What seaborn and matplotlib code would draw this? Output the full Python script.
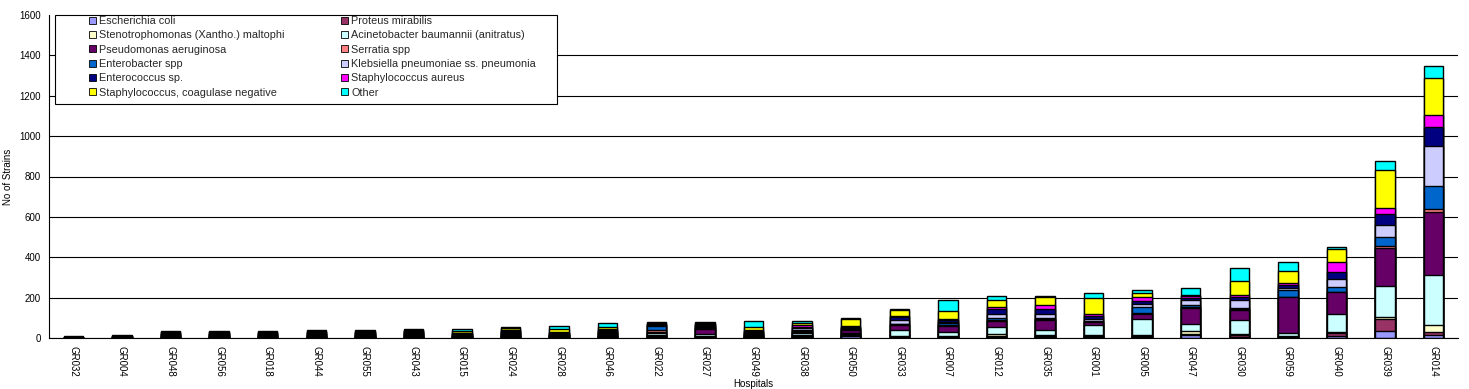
import numpy as np
import pandas as pd
import matplotlib
matplotlib.use("Agg")
import matplotlib.pyplot as plt
from matplotlib.patches import Patch, Rectangle
import seaborn as sns

# hospitals, in the order shown on the x axis
hospitals = ["GR032", "GR004", "GR048", "GR056", "GR018", "GR044", "GR055", "GR043",
             "GR015", "GR024", "GR028", "GR046", "GR022", "GR027", "GR049", "GR038",
             "GR050", "GR033", "GR007", "GR012", "GR035", "GR001", "GR005", "GR047",
             "GR030", "GR059", "GR040", "GR039", "GR014"]

species = ["Escherichia coli", "Proteus mirabilis",
           "Stenotrophomonas (Xantho.) maltophi", "Acinetobacter baumannii (anitratus)",
           "Pseudomonas aeruginosa", "Serratia spp",
           "Enterobacter spp", "Klebsiella pneumoniae ss. pneumonia",
           "Enterococcus sp.", "Staphylococcus aureus",
           "Staphylococcus, coagulase negative", "Other"]

colours = ["#9999FF", "#993366", "#FFFFCC", "#CCFFFF", "#660066", "#FF8080",
           "#0066CC", "#CCCCFF", "#000080", "#FF00FF", "#FFFF00", "#00FFFF"]

# number of strains per hospital
e_coli = [1, 1, 3, 3, 3, 3, 3, 4, 2, 4, 3, 4, 5, 3, 3, 5, 8, 3, 3, 6, 4, 4, 5, 15, 5, 3, 8, 33, 15]
proteus = [0, 1, 2, 2, 2, 3, 3, 3, 2, 4, 3, 4, 5, 3, 3, 5, 5, 3, 2, 6, 4, 4, 5, 3, 8, 3, 17, 63, 16]
steno = [0, 0, 2, 2, 2, 2, 2, 3, 2, 4, 3, 4, 7, 2, 3, 5, 5, 3, 3, 8, 5, 7, 7, 17, 8, 5, 3, 6, 32]
acineto = [1, 1, 3, 3, 3, 4, 4, 5, 3, 5, 3, 5, 6, 10, 5, 8, 6, 31, 22, 33, 27, 47, 75, 33, 70, 15, 92, 156, 251]
pseudo = [1, 2, 4, 4, 4, 4, 4, 6, 3, 5, 3, 5, 8, 28, 5, 8, 16, 24, 28, 30, 48, 16, 25, 79, 50, 176, 106, 188, 311]
serratia = [0, 1, 2, 2, 2, 3, 3, 3, 2, 4, 3, 4, 10, 4, 3, 5, 4, 3, 6, 7, 7, 3, 8, 5, 2, 3, 4, 12, 16]
entero = [1, 1, 3, 3, 3, 3, 3, 4, 3, 4, 3, 4, 17, 4, 3, 6, 4, 4, 8, 8, 6, 4, 30, 11, 4, 31, 24, 44, 114]
klebs = [1, 1, 3, 3, 3, 4, 4, 4, 3, 4, 3, 5, 5, 7, 3, 6, 4, 18, 8, 20, 17, 7, 13, 27, 40, 10, 38, 60, 194]
enteroc = [1, 1, 3, 3, 3, 3, 3, 4, 3, 4, 3, 5, 4, 5, 7, 8, 4, 14, 10, 26, 26, 17, 14, 10, 18, 18, 33, 51, 94]
s_aureus = [1, 1, 3, 3, 3, 3, 3, 3, 2, 4, 3, 5, 4, 4, 4, 6, 4, 8, 6, 10, 20, 12, 23, 8, 6, 6, 50, 33, 63]
scn = [0, 1, 2, 2, 2, 3, 3, 3, 10, 8, 16, 8, 4, 5, 16, 10, 34, 30, 37, 33, 40, 77, 18, 7, 70, 61, 64, 187, 182]
other = [1, 2, 3, 3, 3, 3, 3, 3, 8, 4, 13, 21, 4, 4, 31, 14, 7, 5, 56, 20, 2, 27, 17, 33, 65, 44, 12, 46, 61]

counts = pd.DataFrame(
    dict(zip(species, [e_coli, proteus, steno, acineto, pseudo, serratia,
                       entero, klebs, enteroc, s_aureus, scn, other])),
    index=hospitals)
cum = counts.cumsum(axis=1)

sns.set_theme(style="white")
plt.rcParams["font.family"] = ["Liberation Sans", "DejaVu Sans"]

fig = plt.figure(figsize=(14.69, 3.89), dpi=100)
ax = fig.add_axes([49 / 1469, 51 / 389, 1409 / 1469, 323 / 389])

# stacked bars: draw the cumulative totals from the top layer down
for name, col in reversed(list(zip(species, colours))):
    sns.barplot(x=hospitals, y=cum[name].values, color=col, saturation=1,
                edgecolor="black", linewidth=1.0, width=0.4, errorbar=None, ax=ax)

ax.set_xlim(-0.5, len(hospitals) - 0.5)
ax.set_ylim(0, 1600)
ax.set_yticks(range(0, 1601, 200))
ax.set_axisbelow(True)
ax.yaxis.grid(True, color="black", linewidth=0.8)
ax.get_ygridlines()[-1].set_visible(False)

for s in ["top", "right"]:
    ax.spines[s].set_visible(False)
for s in ["left", "bottom"]:
    ax.spines[s].set_color("black")
    ax.spines[s].set_linewidth(0.8)

ax.tick_params(axis="y", direction="out", length=4, width=0.8, labelsize=7, pad=2, colors="black")
ax.tick_params(axis="x", which="major", length=0, labelsize=7, pad=6, colors="black")
ax.set_xticks(np.arange(-0.5, len(hospitals), 1), minor=True)
ax.tick_params(axis="x", which="minor", direction="inout", length=6, width=0.8, color="black")
plt.setp(ax.get_xticklabels(), rotation=-90, ha="center", va="top")

ax.set_xlabel("Hospitals", fontsize=7, color="black")
ax.set_ylabel("No of Strains", fontsize=7, color="black")
ax.xaxis.set_label_coords(0.5, -0.142)
ax.yaxis.set_label_coords(-0.029, 0.5)
ax.xaxis.label.set_va("center")
ax.yaxis.label.set_va("center")

# legend box and two legend columns
box = Rectangle((55 / 1469, (389 - 104) / 389), 502 / 1469, 89 / 389,
                transform=fig.transFigure, facecolor="white", edgecolor="black",
                linewidth=0.8, zorder=4)
fig.add_artist(box)

handles = [Patch(facecolor=c, edgecolor="black", linewidth=0.6, label=n)
           for n, c in zip(species, colours)]
for start, x0 in [(0, 89), (1, 341)]:
    leg = fig.legend(handles=handles[start::2], loc="upper left",
                     bbox_to_anchor=(x0 / 1469, (389 - 16) / 389),
                     bbox_transform=fig.transFigure, frameon=False,
                     borderpad=0, borderaxespad=0, handlelength=0.6,
                     handleheight=0.6, handletextpad=0.35, labelspacing=0.4,
                     fontsize=7.8)
    leg.set_zorder(6)

fig.savefig("out.png", dpi=100, facecolor="white")
